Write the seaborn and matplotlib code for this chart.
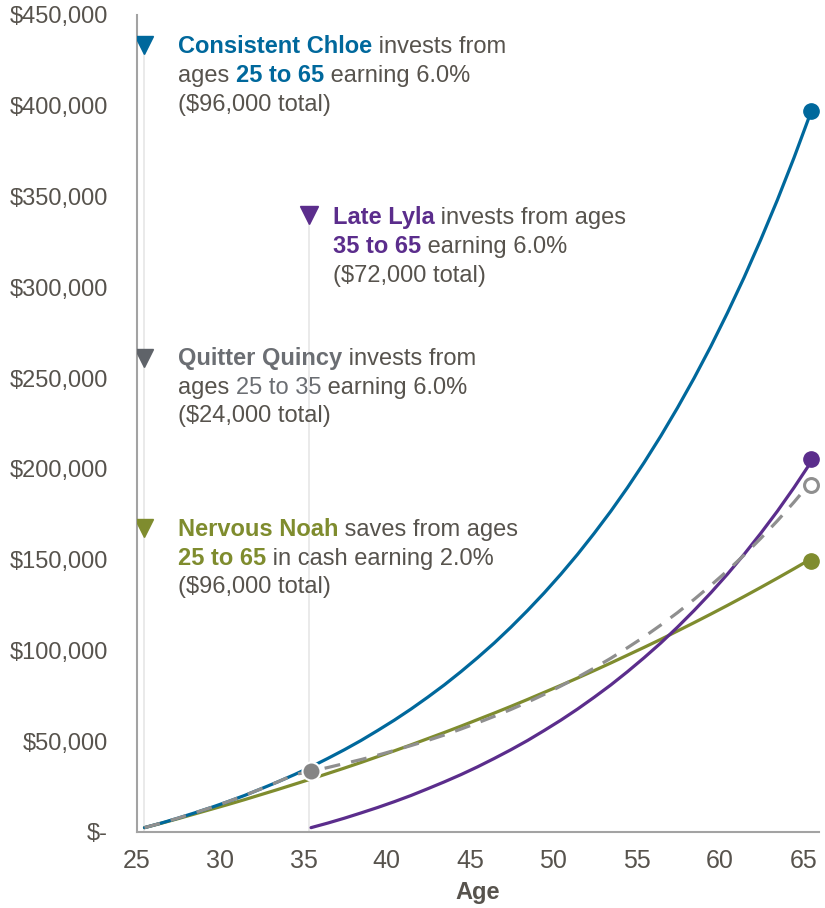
import matplotlib
matplotlib.use("Agg")
import matplotlib.pyplot as plt
import pandas as pd
import seaborn as sns

# ---------------- data ----------------
ages = list(range(25, 66))
lyla_ages = list(range(35, 66))

chloe = [2400, 4900, 7600, 10500, 13500, 16700, 20100, 23800, 27600, 31600,
         35900, 40500, 45300, 50400, 55900, 61600, 67700, 74200, 81000, 88300,
         96000, 104100, 112800, 122000, 131700, 142000, 152900, 164500, 176700, 189700,
         203500, 218100, 233600, 250000, 267400, 285900, 305400, 326200, 348100, 371400,
         396100]
lyla = [2400, 4900, 7600, 10500, 13500, 16700, 20100, 23800, 27600, 31600,
        35900, 40500, 45300, 50400, 55900, 61600, 67700, 74200, 81000, 88300,
        96000, 104100, 112800, 122000, 131700, 142000, 152900, 164500, 176700, 189700,
        203500]
quincy = [2400, 4900, 7600, 10500, 13500, 16700, 20100, 23800, 27600, 31600,
          33500, 35500, 37700, 39900, 42300, 44900, 47600, 50400, 53400, 56700,
          60100, 63700, 67500, 71500, 75800, 80400, 85200, 90300, 95700, 101500,
          107500, 114000, 120800, 128100, 135800, 143900, 152500, 161700, 171400, 181700,
          192600]
noah = [2400, 4800, 7300, 9900, 12500, 15100, 17800, 20600, 23400, 26300,
        29200, 32200, 35200, 38300, 41500, 44700, 48000, 51400, 54800, 58300,
        61900, 65500, 69200, 73000, 76900, 80800, 84800, 88900, 93100, 97400,
        101700, 106100, 110700, 115300, 120000, 124800, 129700, 134700, 139800, 145000,
        150300]

x_ticks = [25, 30, 35, 40, 45, 50, 55, 60, 65]
y_ticks = [0, 50000, 100000, 150000, 200000, 250000, 300000, 350000, 400000, 450000]
y_tick_labels = ["$-", "$50,000", "$100,000", "$150,000", "$200,000", "$250,000",
                 "$300,000", "$350,000", "$400,000", "$450,000"]

# ---------------- style ----------------
C_BLUE = "#00689C"
C_PURPLE = "#5B2D8C"
C_GRAY_LINE = "#8F8F8F"
C_GRAY_TXT = "#6B6E73"
C_OLIVE = "#7F8C2E"
C_TEXT = "#57534D"
C_AXIS = "#A3A3A3"
FS = 17
LW = 2.3

sns.set_theme(style="white")
plt.rcParams["font.family"] = ["Liberation Sans", "DejaVu Sans"]

fig = plt.figure(figsize=(8.25, 9.08), dpi=100)
ax = fig.add_axes([137 / 825, 76 / 908, (819 - 137) / 825, (832 - 15) / 908])

df_main = pd.DataFrame({"age": ages * 3,
                        "value": chloe + quincy + noah,
                        "who": ["Chloe"] * len(ages) + ["Quincy"] * len(ages) + ["Noah"] * len(ages)})
df_lyla = pd.DataFrame({"age": lyla_ages, "value": lyla})

# guide lines from the triangles
TRI = {"Chloe": (25, 433400, C_BLUE), "Lyla": (34.85, 339800, C_PURPLE),
       "Quincy": (25, 261000, "#5F6369"), "Noah": (25, 167400, C_OLIVE)}
ax.plot([25, 25], [0, 433400], color="#E6E6E6", lw=1.2, zorder=1)
ax.plot([34.85, 34.85], [0, 339800], color="#E6E6E6", lw=1.2, zorder=1)

sns.lineplot(data=df_main[df_main.who == "Noah"], x="age", y="value", color=C_OLIVE,
             lw=LW, ax=ax, zorder=3)
sns.lineplot(data=df_main[df_main.who == "Chloe"], x="age", y="value", color=C_BLUE,
             lw=LW, ax=ax, zorder=3)
sns.lineplot(data=df_lyla, x="age", y="value", color=C_PURPLE, lw=LW, ax=ax, zorder=3)
sns.lineplot(data=df_main[df_main.who == "Quincy"], x="age", y="value", color=C_GRAY_LINE,
             lw=LW, ax=ax, zorder=4, dashes=False)
ax.lines[-1].set_dashes([5, 3.5])

# end / mid markers
ax.plot(ages[-1], chloe[-1] + 800, "o", ms=11, color=C_BLUE, mec=C_BLUE, zorder=5)
ax.plot(ages[-1], lyla[-1] + 2000, "o", ms=11, color=C_PURPLE, mec=C_PURPLE, zorder=5)
ax.plot(ages[-1], quincy[-1] - 1500, "o", ms=10, mfc="white", mec=C_GRAY_LINE, mew=2.2, zorder=5)
ax.plot(ages[-1], noah[-1] - 1000, "o", ms=11, color=C_OLIVE, mec=C_OLIVE, zorder=5)
ax.plot(35, quincy[10], "o", ms=13, color="#858585", mec="white", mew=1.5, zorder=6)

# triangles
for k, (tx, ty, tc) in TRI.items():
    ax.plot(tx, ty, "v", ms=13, color=tc, mec=tc, zorder=5)

ax.set_xlim(24.55, 65.5)
ax.set_ylim(0, 450000)
ax.set_xticks([t - 0.45 for t in x_ticks])
ax.set_xticklabels([str(t) for t in x_ticks])
ax.set_yticks(y_ticks)
ax.set_yticklabels(y_tick_labels)
ax.tick_params(axis="both", direction="out", length=6, width=1.2, color=C_AXIS,
               labelsize=FS, labelcolor=C_TEXT)
ax.tick_params(axis="y", pad=15)
ax.tick_params(axis="x", pad=6, labelsize=18)
for s in ["top", "right"]:
    ax.spines[s].set_visible(False)
for s in ["left", "bottom"]:
    ax.spines[s].set_color(C_AXIS)
    ax.spines[s].set_linewidth(1.5)
ax.set_ylabel("")
ax.set_xlabel("Age", fontsize=FS, fontweight="bold", color=C_TEXT, labelpad=6)
ax.grid(False)

# multi-coloured annotations
LS = 15800
def rich(x, y, lines):
    for i, segs in enumerate(lines):
        prev = None
        for txt, col, bold in segs:
            kw = dict(fontsize=FS, color=col, fontweight="bold" if bold else "normal")
            if prev is None:
                prev = ax.text(x, y - i * LS, txt, va="baseline", ha="left", **kw)
            else:
                prev = ax.annotate(txt, xy=(1, 0), xycoords=prev, va="bottom", ha="left", **kw)

rich(27.0, 428900, [[("Consistent Chloe", C_BLUE, True), (" invests from", C_TEXT, False)],
                    [("ages ", C_TEXT, False), ("25 to 65", C_BLUE, True), (" earning 6.0%", C_TEXT, False)],
                    [("($96,000 total)", C_TEXT, False)]])
rich(36.3, 334800, [[("Late Lyla", C_PURPLE, True), (" invests from ages", C_TEXT, False)],
                    [("35 to 65", C_PURPLE, True), (" earning 6.0%", C_TEXT, False)],
                    [("($72,000 total)", C_TEXT, False)]])
rich(27.0, 257200, [[("Quitter Quincy", C_GRAY_TXT, True), (" invests from", C_TEXT, False)],
                    [("ages ", C_TEXT, False), ("25 to 35", C_GRAY_TXT, False), (" earning 6.0%", C_TEXT, False)],
                    [("($24,000 total)", C_TEXT, False)]])
rich(27.0, 163000, [[("Nervous Noah", C_OLIVE, True), (" saves from ages", C_TEXT, False)],
                    [("25 to 65", C_OLIVE, True), (" in cash earning 2.0%", C_TEXT, False)],
                    [("($96,000 total)", C_TEXT, False)]])

fig.savefig("out.png", dpi=100)
